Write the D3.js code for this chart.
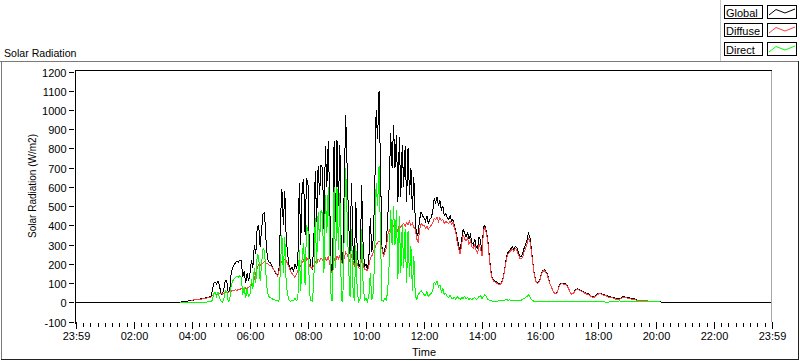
<!DOCTYPE html>
<html><head><meta charset="utf-8">
<script src="https://cdn.jsdelivr.net/npm/d3@7"></script>
<style>
body{margin:0;background:#fff}
svg{display:block}
text{font-family:"Liberation Sans",Arial,sans-serif;fill:#000}
</style>
</head><body>
<svg id="chart" width="800" height="361"></svg>
<script>
// ---- data ----
const startMinute = 210;   // 03:30
const stepMinutes = 3;
const nightValue = 0;

const globalVals = [
0,0,0,5,5,5,6,6,7,8,
9,10,15,13,17,14,18,20,18,22,24,26,28,30,60,100,105,95,110,85,
45,40,70,115,110,50,60,150,180,195,205,215,210,220,215,130,160,100,150,110,
150,220,180,300,250,390,400,290,380,460,465,330,230,210,205,190,175,160,150,135,
170,420,590,400,580,330,250,190,170,185,160,200,175,210,620,300,600,640,350,645,
620,250,185,175,300,680,420,710,560,715,700,380,810,600,840,520,160,150,840,420,
845,500,820,220,200,600,975,700,420,250,620,300,190,520,260,180,200,610,300,180,
200,170,230,440,260,330,560,1000,850,1100,700,290,250,280,300,440,600,880,700,920,
700,870,520,860,550,820,600,810,520,800,560,700,480,650,420,340,360,430,470,450,
440,420,450,410,430,440,470,540,520,545,500,530,480,500,450,460,440,430,450,420,
430,400,370,330,290,270,330,380,360,340,365,330,350,310,300,330,290,280,340,320,
250,390,400,370,330,240,170,130,115,110,105,100,95,100,115,140,190,240,260,270,
280,290,275,290,285,260,240,235,250,280,300,320,360,340,280,210,150,115,100,105,
120,150,165,170,160,150,120,95,80,60,50,45,55,80,95,100,98,97,95,85,
70,48,45,50,60,68,70,66,62,58,55,50,46,45,40,34,30,28,32,40,
45,48,46,42,40,38,35,30,28,27,27,24,20,18,18,19,22,28,28,27,
25,24,22,20,19,18,14,11,10,10,10,10,9,9,8,6,5,5,5,5,
4,3,3,2,0,0,0,0,0,0,0
];

const diffuseVals = [
null,null,null,null,null,null,null,null,null,6,
10,12,15,12,16,14,15,18,17,20,22,24,25,27,35,42,45,40,47,45,
45,42,48,50,52,50,55,58,60,62,65,62,66,68,70,72,70,75,72,78,
85,90,95,120,150,180,195,190,200,205,210,205,200,195,190,185,175,165,150,135,
160,200,215,225,225,215,200,180,160,150,140,130,145,160,200,185,210,220,190,230,
220,190,180,175,190,210,200,225,215,230,220,200,230,215,240,200,160,145,230,210,
240,225,245,210,200,230,260,250,230,210,240,215,190,220,200,180,175,230,200,170,
170,165,190,230,240,260,280,300,310,320,310,280,240,260,280,350,370,390,380,400,
400,360,380,400,390,400,410,395,415,405,420,400,410,390,380,330,310,380,410,400,
400,385,395,380,390,400,410,435,430,445,420,440,425,430,410,420,415,410,420,405,
415,385,360,310,275,250,300,350,330,320,335,300,320,290,280,300,270,255,300,280,
240,370,390,360,320,230,160,125,110,105,100,95,90,95,110,135,185,230,250,260,
270,275,265,280,270,250,230,225,235,260,280,300,330,320,270,205,145,112,98,102,
115,145,160,165,155,145,115,92,77,57,47,42,52,77,92,97,95,94,92,82,
67,45,42,47,56,64,66,63,59,55,52,47,43,42,37,31,27,25,29,37,
42,45,43,39,37,35,32,27,25,24,24,21,17,15,15,16,19,25,25,24,
22,21,19,17,16,15,12,10,9,9,9,9,8,8,7,5,4,4,4,4,
3,3,2,null,null,null,null,null,null,null,null
];

const directVals = [
null,null,1,1,1,1,1,1,1,1,
1,1,1,1,1,1,1,1,1,1,1,2,2,2,10,45,50,30,55,20,
5,0,20,60,55,5,10,85,110,120,128,135,130,138,130,40,80,20,70,30,
40,120,70,180,100,250,240,110,200,280,270,150,50,30,25,20,15,12,10,8,
5,180,350,150,340,90,40,10,5,10,8,20,10,15,270,60,240,310,90,400,
380,50,10,5,100,440,200,470,320,480,460,150,560,360,600,300,10,8,600,180,
600,270,570,10,5,360,700,450,180,30,380,80,5,300,50,5,20,380,100,10,
20,5,30,150,10,50,230,620,500,710,350,10,5,20,10,60,200,480,300,500,
300,480,120,450,150,400,180,380,100,370,130,290,60,240,40,10,40,50,60,50,
40,35,55,30,40,45,60,105,95,110,80,90,55,70,40,45,30,25,35,20,
20,25,15,30,20,15,25,20,30,20,25,15,20,15,20,25,15,20,30,35,
20,30,40,30,15,10,8,6,5,5,5,6,8,10,8,10,12,15,10,12,
8,10,8,10,12,10,8,10,15,20,25,30,40,30,15,8,5,4,3,4,
3,3,4,4,4,3,3,3,2,2,2,2,2,2,3,3,3,3,3,2,
2,2,2,2,2,2,2,2,2,2,2,2,2,2,2,2,2,2,2,2,
2,2,2,2,2,1,0,1,2,2,2,3,3,3,6,8,4,3,3,3,
3,3,3,3,3,3,3,3,3,3,3,3,3,3,3,3,3,3,3,3,
3,3,3,3,null,null,null,null,null,null,null
];

const seriesNames = ["Global", "Diffuse", "Direct"];
const seriesColors = ["#000000", "#ff4040", "#00ff00"];

const xTickMinutes = [-1, 120, 240, 360, 480, 600, 720, 840, 960, 1080, 1200, 1320, 1439];
const xTickLabels = ["23:59","02:00","04:00","06:00","08:00","10:00","12:00","14:00","16:00","18:00","20:00","22:00","23:59"];
const minorTickStep = 15;
const yTicks = [-100,0,100,200,300,400,500,600,700,800,900,1000,1100,1200];

const chartTitle = "Solar Radiation";
const yTitle = "Solar Radiation (W/m2)";
const xTitle = "Time";

// ---- layout ----
const svg = d3.select("#chart");
const P = {left: 75, right: 772, top: 70, bottom: 322};

const x = d3.scaleLinear().domain([-1, 1439]).range([75.5, 771.5]);
const y = d3.scaleLinear().domain([-100, 1200]).range([321.5, 71.5]);

// outer panel frame
svg.append("line").attr("x1",0).attr("x2",799).attr("y1",61.5).attr("y2",61.5).attr("stroke","#7a7a7a");
svg.append("line").attr("x1",1.5).attr("x2",1.5).attr("y1",61).attr("y2",360).attr("stroke","#7a7a7a");
svg.append("line").attr("x1",1).attr("x2",799).attr("y1",359.5).attr("y2",359.5).attr("stroke","#222");
svg.append("line").attr("x1",798.5).attr("x2",798.5).attr("y1",61).attr("y2",360).attr("stroke","#222");

// legend separator
svg.append("line").attr("x1",720.5).attr("x2",720.5).attr("y1",0).attr("y2",61).attr("stroke","#c8c8c8");

// title
svg.append("text").attr("x",4).attr("y",56.5).attr("font-size","10.6px").text(chartTitle);

// plot frame (sunken)
svg.append("line").attr("x1",P.right-0.5).attr("x2",P.right-0.5).attr("y1",P.top).attr("y2",P.bottom).attr("stroke","#a8a8a8");
svg.append("line").attr("x1",P.left).attr("x2",P.right).attr("y1",P.top+0.5).attr("y2",P.top+0.5).attr("stroke","#000");
svg.append("line").attr("x1",P.left+0.5).attr("x2",P.left+0.5).attr("y1",P.top).attr("y2",P.bottom+2).attr("stroke","#000");

// y ticks + labels
const yg = svg.append("g");
yTicks.forEach(v => {
  const yy = Math.round(y(v)) + 0.5;
  yg.append("line").attr("x1",69).attr("x2",74).attr("y1",yy).attr("y2",yy).attr("stroke","#000");
  yg.append("text").attr("x",66.5).attr("y",yy+4).attr("text-anchor","end").attr("font-size","11px").text(v);
});

// x ticks
const xg = svg.append("g");
d3.range(0, 1440, minorTickStep).forEach(m => {
  if (xTickMinutes.includes(m)) return;
  const xx = Math.round(x(m)) + 0.5;
  xg.append("line").attr("x1",xx).attr("x2",xx).attr("y1",323).attr("y2",327).attr("stroke","#000");
});
xTickMinutes.forEach((m,i) => {
  const xx = Math.round(x(m)) + 0.5;
  xg.append("line").attr("x1",xx).attr("x2",xx).attr("y1",322).attr("y2",329).attr("stroke","#000");
  xg.append("text").attr("x",xx).attr("y",340).attr("text-anchor","middle").attr("font-size","11px").text(xTickLabels[i]);
});

// axis titles
svg.append("text").attr("transform","translate(36,186) rotate(-90)").attr("text-anchor","middle")
  .attr("font-size","10px").text(yTitle);
svg.append("text").attr("x",424).attr("y",356).attr("text-anchor","middle").attr("font-size","11px").text(xTitle);

// clip
svg.append("clipPath").attr("id","plotclip").append("rect")
  .attr("x",P.left+1).attr("y",P.top+1).attr("width",P.right-P.left-2).attr("height",P.bottom-P.top);

const toPoints = vals => vals.map((v,i) => ({t: startMinute + i*stepMinutes, v}));
const globalPts = [{t: x.domain()[0], v: nightValue}, ...toPoints(globalVals), {t: x.domain()[1], v: nightValue}];
const series = [globalPts, toPoints(diffuseVals), toPoints(directVals)];

const line = d3.line().defined(d => d.v !== null).x(d => x(d.t)).y(d => y(d.v));
const plot = svg.append("g").attr("clip-path","url(#plotclip)");
series.forEach((pts, i) => {
  plot.append("path").attr("d", line(pts)).attr("fill","none")
    .attr("stroke", seriesColors[i]).attr("stroke-width",1).attr("shape-rendering","crispEdges");
});

// legend
const lg = svg.append("g");
const rowTops = [5.5, 23.5, 42.5];
seriesNames.forEach((name,i) => {
  const top = rowTops[i];
  lg.append("rect").attr("x",724.5).attr("y",top).attr("width",38).attr("height",13).attr("fill","#fff").attr("stroke","#000");
  lg.append("text").attr("x",726).attr("y",top+11).attr("font-size","11px").text(name);
  lg.append("rect").attr("x",767.5).attr("y",top).attr("width",29).attr("height",13).attr("fill","#fff").attr("stroke","#000");
  const sw = [[769,top+9.5],[776,top+4],[785,top+7.5],[795,top+3.5]];
  lg.append("polyline").attr("points", sw.map(p=>p.join(",")).join(" "))
    .attr("fill","none").attr("stroke",seriesColors[i]).attr("stroke-width",1);
});
</script>
</body></html>
